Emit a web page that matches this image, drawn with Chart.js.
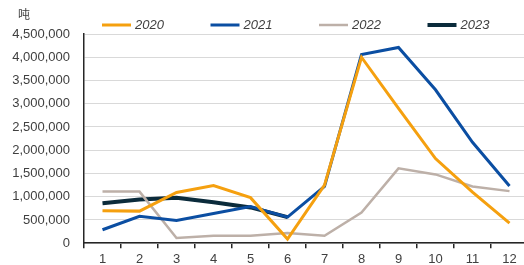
<!DOCTYPE html>
<html>
<head>
<meta charset="utf-8">
<script src="https://cdn.jsdelivr.net/npm/chart.js@4.4.1/dist/chart.umd.min.js"></script>
<style>
  html, body { margin: 0; padding: 0; overflow: hidden; background: #fff; }
  #wrap { width: 530px; height: 265px; }
</style>
</head>
<body>
<div id="wrap"><canvas id="lineChart" width="530" height="265"></canvas></div>
<script>
// monthly volume, tonnes
const months = ['1', '2', '3', '4', '5', '6', '7', '8', '9', '10', '11', '12'];
const y2020 = [700000, 690000, 1090000, 1240000, 980000, 90000, 1250000, 4000000, 2900000, 1820000, 1100000, 430000];
const y2021 = [290000, 580000, 490000, 640000, 790000, 560000, 1220000, 4060000, 4210000, 3300000, 2170000, 1230000];
const y2022 = [1110000, 1110000, 110000, 160000, 160000, 220000, 160000, 660000, 1610000, 1480000, 1220000, 1120000];
const y2023 = [860000, 940000, 980000, 880000, 770000, 560000];
const yTicks = { min: 0, max: 4500000, step: 500000 };
const unit = '吨';

const txt = '#404040';
const axisCol = '#262626';

// legend + unit label drawn on the canvas
const extras = {
    id: 'extras',
    afterDraw(chart) {
        const ctx = chart.ctx;
        ctx.save();
        ctx.fillStyle = txt;
        ctx.font = '12px "Noto Sans CJK SC"';
        ctx.textAlign = 'center';
        ctx.textBaseline = 'middle';
        ctx.fillText(unit, 24, 14);

        ctx.font = 'italic 13px "Liberation Sans"';
        ctx.textAlign = 'left';
        chart.data.datasets.forEach((ds, i) => {
            const x = 102 + i * 108.5;
            ctx.strokeStyle = ds.borderColor;
            ctx.lineWidth = ds.borderWidth;
            ctx.beginPath();
            ctx.moveTo(x, 25);
            ctx.lineTo(x + 29, 25);
            ctx.stroke();
            ctx.fillStyle = txt;
            ctx.fillText(ds.label, x + 33, 25.5);
        });
        ctx.restore();
    }
};

const ctx = document.getElementById('lineChart').getContext('2d');
new Chart(ctx, {
    type: 'line',
    data: {
        labels: months,
        datasets: [
            { label: '2020', data: y2020, borderColor: '#F5A00F', backgroundColor: '#F5A00F', borderWidth: 3 },
            { label: '2021', data: y2021, borderColor: '#0B4EA2', backgroundColor: '#0B4EA2', borderWidth: 3 },
            { label: '2022', data: y2022, borderColor: '#BDB0A8', backgroundColor: '#BDB0A8', borderWidth: 2.5 },
            { label: '2023', data: y2023, borderColor: '#0B2B3B', backgroundColor: '#0B2B3B', borderWidth: 4 }
        ]
    },
    options: {
        responsive: false,
        animation: false,
        layout: { padding: { top: 34, right: 2, left: 0, bottom: 0 } },
        elements: {
            point: { radius: 0 },
            line: { tension: 0, borderCapStyle: 'butt', borderJoinStyle: 'miter' }
        },
        plugins: {
            legend: { display: false },
            tooltip: { enabled: false }
        },
        scales: {
            x: {
                offset: true,
                grid: { offset: true, drawOnChartArea: false, drawTicks: true, tickLength: 5, color: axisCol, lineWidth: 1.5 },
                border: { color: axisCol, width: 1.5 },
                ticks: { color: txt, font: { family: 'Liberation Sans', size: 13 }, padding: 3, maxRotation: 0 },
                afterFit(scale) { scale.height = 21; }
            },
            y: {
                min: yTicks.min,
                max: yTicks.max,
                grid: { color: '#d9d9d9', drawTicks: false },
                border: { color: axisCol, width: 1.5 },
                ticks: {
                    stepSize: yTicks.step,
                    color: txt,
                    padding: 14,
                    font: { family: 'Liberation Sans', size: 13 },
                    callback: v => v.toLocaleString('en-US')
                },
                afterFit(scale) { scale.width = 84; }
            }
        }
    },
    plugins: [extras]
});
</script>
</body>
</html>
